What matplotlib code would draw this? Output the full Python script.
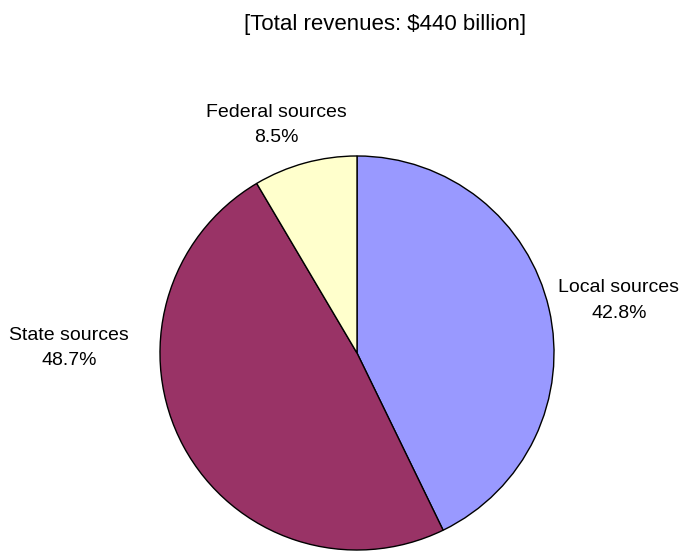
import matplotlib
matplotlib.use("Agg")
import matplotlib.pyplot as plt

plt.rcParams['font.family'] = ['Liberation Sans', 'DejaVu Sans']

categories = ["Local sources", "State sources", "Federal sources"]
values = [42.8, 48.7, 8.5]
colors = ["#9999FF", "#993366", "#FFFFCC"]
title = "[Total revenues: $440 billion]"

W, H = 683, 552
fig = plt.figure(figsize=(W/100, H/100), dpi=100)
cx, cy, r = 357, 353, 198
ax = fig.add_axes([(cx - r)/W, (H - cy - r)/H, 2*r/W, 2*r/H])
ax.pie(values, colors=colors, startangle=90, counterclock=False,
       wedgeprops=dict(edgecolor="black", linewidth=1.0), radius=1.0)
ax.set_xlim(-1.005, 1.005)
ax.set_ylim(-1.005, 1.005)
ax.set_aspect("equal")
ax.axis("off")

fig.text(385/W, 1 - 30/H, title, ha="center", va="baseline", fontsize=16)

# (x center, baseline line 1, baseline line 2) in pixels from top-left
label_pos = {"Local sources": (619, 292, 318),
             "State sources": (69, 340, 365),
             "Federal sources": (276, 117, 142)}
for cat, v in zip(categories, values):
    x, y1, y2 = label_pos[cat]
    fig.text(x/W, 1 - y1/H, cat, ha="center", va="baseline", fontsize=14)
    fig.text(x/W, 1 - y2/H, f"{v}%", ha="center", va="baseline", fontsize=14)

fig.savefig("out.png", dpi=100)
